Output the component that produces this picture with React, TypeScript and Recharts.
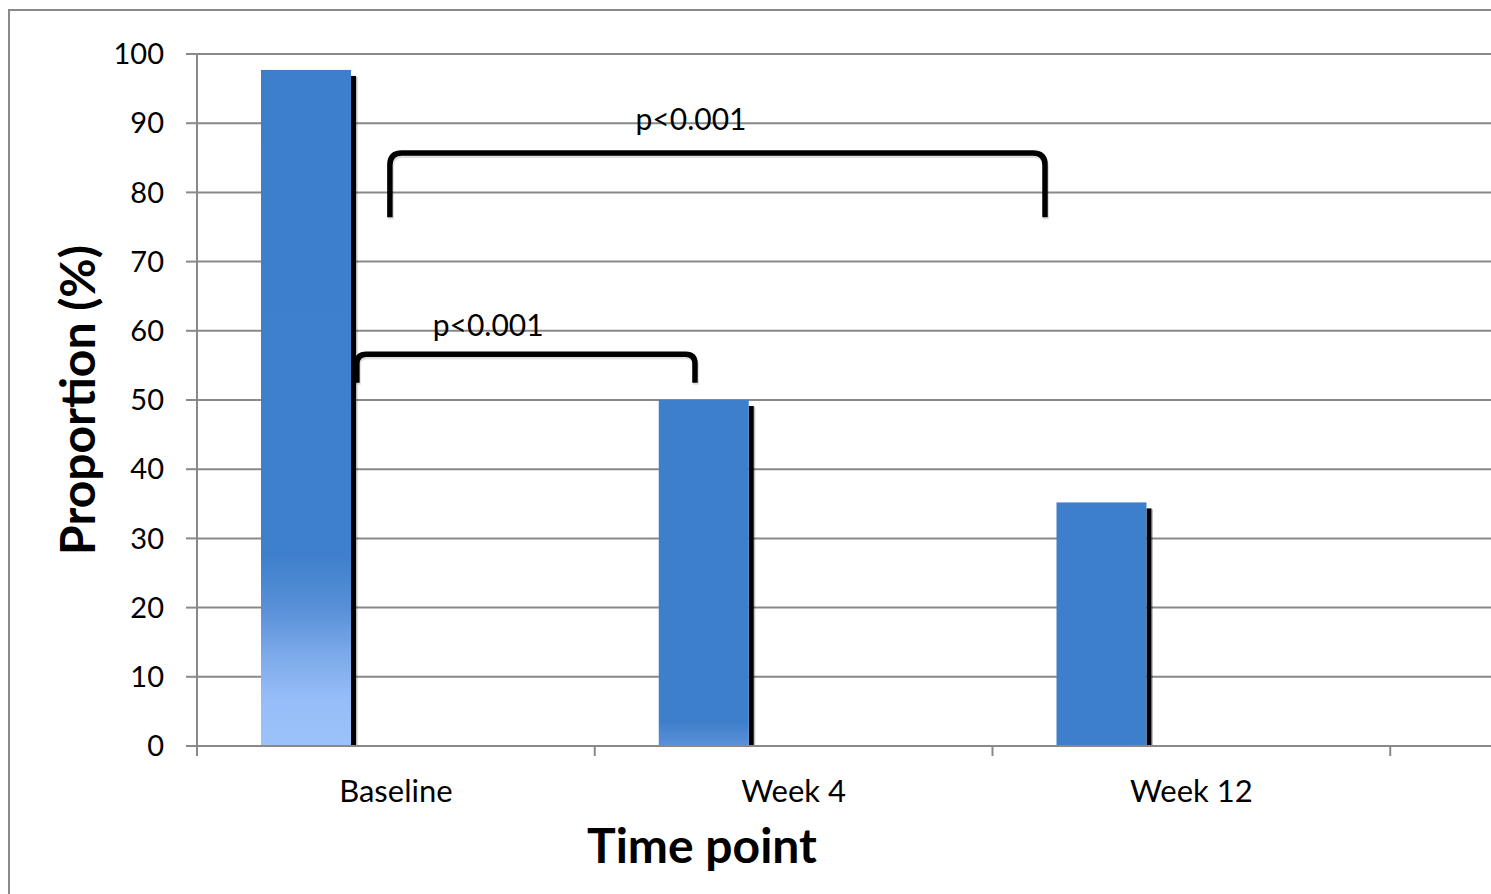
import React from 'react';
import { BarChart, Bar, XAxis, YAxis, CartesianGrid, ReferenceLine, Label } from 'recharts';

// categories on the x axis (the sheet had a 4th, empty column cut off at the right)
const categories = ['Baseline', 'Week 4', 'Week 12', ''];
const proportion = [97.7, 50.0, 35.2, null];
// two empty series that sat next to the filled one in the original workbook
const emptySeriesA = [null, null, null, null];
const emptySeriesB = [null, null, null, null];

const yTicks = [0, 10, 20, 30, 40, 50, 60, 70, 80, 90, 100];

// significance brackets: ends given as category + shift (in category widths), heights in %
const bracketFrom = ['Baseline', 'Baseline'];
const bracketFromShift = [-0.015, -0.098];
const bracketTo = ['Week 12', 'Week 4'];
const bracketToShift = [-0.368, -0.248];
const bracketLow = [76.4, 52.5];
const bracketHigh = [85.7, 56.6];
// p-value text: shift from the "from" category, height in %
const pTextShift = [0.742, 0.232];
const pTextY = [90.6, 60.8];
const pText = ['p<0.001', 'p<0.001'];

const data = categories.map((time, i) => ({
  time,
  proportion: proportion[i],
  seriesA: emptySeriesA[i],
  seriesB: emptySeriesB[i],
}));

const FONT = 'Lato, "Open Sans", sans-serif';
const GRAY = '#898989';
const BLUE = '#3e7fcc';
const barFills = ['url(#fillBaseline)', 'url(#fillWeek4)', BLUE, BLUE];

function ShadowBar(props: any) {
  const { x, y, width, height, index } = props;
  if (height == null || height <= 0 || isNaN(height)) return null;
  return (
    <g>
      <rect x={x + width} y={y + 6} width={5} height={height - 6} fill="#000" />
      <rect x={x + width + 5} y={y + 7} width={1.5} height={height - 7} fill="#000" opacity={0.25} />
      <rect x={x} y={y} width={width} height={height} fill={barFills[index]} />
    </g>
  );
}

const bracketShape = (i: number) => (props: any) => {
  const { x1, y1, x2, y2 } = props;
  const span = categories.indexOf(bracketTo[i]) - categories.indexOf(bracketFrom[i]);
  const band = (x2 - x1) / span;
  const left = x1 + bracketFromShift[i] * band;
  const right = x2 + bracketToShift[i] * band;
  const bottom = y1;
  const top = y2;
  const pxPerUnit = (y1 - y2) / (bracketHigh[i] - bracketLow[i]);
  const tx = x1 + pTextShift[i] * band;
  const ty = y1 - (pTextY[i] - bracketLow[i]) * pxPerUnit;
  const r = Math.min(12, (bottom - top) / 3);
  const d = `M${left},${bottom} L${left},${top + r} Q${left},${top} ${left + r},${top} L${right - r},${top} Q${right},${top} ${right},${top + r} L${right},${bottom}`;
  return (
    <g>
      <path d={d} fill="none" stroke="#000" strokeOpacity={0.12} strokeWidth={6} transform="translate(1,2)" />
      <path d={d} fill="none" stroke="#000" strokeWidth={5.5} />
      <text x={tx} y={ty} dy="0.35em" textAnchor="middle" fontFamily={FONT} fontSize={30} fill="#000">
        {pText[i]}
      </text>
    </g>
  );
};

function CategoryTick(props: any) {
  const { x, y, payload } = props;
  const half = payload.offset || 0;
  return (
    <g>
      <line x1={x - half} x2={x - half} y1={y} y2={y + 10} stroke={GRAY} strokeWidth={2} />
      <text x={x} y={y + 56} textAnchor="middle" fontFamily={FONT} fontSize={31} fill="#000">
        {payload.value}
      </text>
    </g>
  );
}

export default function App() {
  return (
    <div
      style={{
        position: 'absolute',
        left: 8,
        top: 9,
        width: 1483,
        height: 885,
        overflow: 'hidden',
        boxSizing: 'border-box',
        borderLeft: `2px solid ${GRAY}`,
        borderTop: `2px solid ${GRAY}`,
        background: '#fff',
      }}
    >
      <BarChart
        width={1800}
        height={883}
        data={data}
        margin={{ top: 43, right: 22, left: 0, bottom: 0 }}
        barCategoryGap={64}
        barGap={0}
      >
        <defs>
          <linearGradient id="fillBaseline" x1="0" y1="0" x2="0" y2="1">
            <stop offset="0" stopColor={BLUE} />
            <stop offset="0.72" stopColor="#3f80cd" />
            <stop offset="0.8" stopColor="#5a91d8" />
            <stop offset="0.86" stopColor="#7aa8e8" />
            <stop offset="0.93" stopColor="#97bdf8" />
            <stop offset="1" stopColor="#9cc2fb" />
          </linearGradient>
          <linearGradient id="fillWeek4" x1="0" y1="0" x2="0" y2="1">
            <stop offset="0" stopColor={BLUE} />
            <stop offset="0.93" stopColor={BLUE} />
            <stop offset="1" stopColor="#5b91da" />
          </linearGradient>
        </defs>
        <CartesianGrid horizontal vertical={false} stroke={GRAY} strokeWidth={2} />
        <XAxis
          dataKey="time"
          height={148}
          axisLine={{ stroke: GRAY, strokeWidth: 2 }}
          tickLine={false}
          tickSize={0}
          tickMargin={0}
          tick={<CategoryTick />}
          interval={0}
        >
          <Label
            content={() => (
              <text x={692} y={852} textAnchor="middle" fontFamily={FONT} fontWeight="bold" fontSize={48} fill="#000">
                Time point
              </text>
            )}
          />
        </XAxis>
        <YAxis
          width={187}
          domain={[0, 100]}
          ticks={yTicks}
          interval={0}
          axisLine={{ stroke: GRAY, strokeWidth: 2 }}
          tickLine={{ stroke: GRAY, strokeWidth: 2 }}
          tickSize={11}
          tickMargin={22}
          tick={{ fontFamily: FONT, fontSize: 29, fill: '#000' }}
        >
          <Label
            content={(p: any) => {
              const vb = p.viewBox || { x: 0, y: 43, height: 692 };
              const cx = 68;
              const cy = vb.y + vb.height / 2;
              return (
                <text
                  x={cx}
                  y={cy}
                  dy="0.35em"
                  textAnchor="middle"
                  transform={`rotate(-90, ${cx}, ${cy})`}
                  fontFamily={FONT}
                  fontWeight="bold"
                  fontSize={48}
                  fill="#000"
                >
                  Proportion (%)
                </text>
              );
            }}
          />
        </YAxis>
        <Bar dataKey="proportion" shape={<ShadowBar />} isAnimationActive={false} />
        <Bar dataKey="seriesA" fill={BLUE} isAnimationActive={false} />
        <Bar dataKey="seriesB" fill={BLUE} isAnimationActive={false} />
        {bracketFrom.map((from, i) => (
          <ReferenceLine
            key={`br-${i}`}
            segment={[
              { x: from, y: bracketLow[i] },
              { x: bracketTo[i], y: bracketHigh[i] },
            ]}
            shape={bracketShape(i)}
          />
        ))}
      </BarChart>
    </div>
  );
}
